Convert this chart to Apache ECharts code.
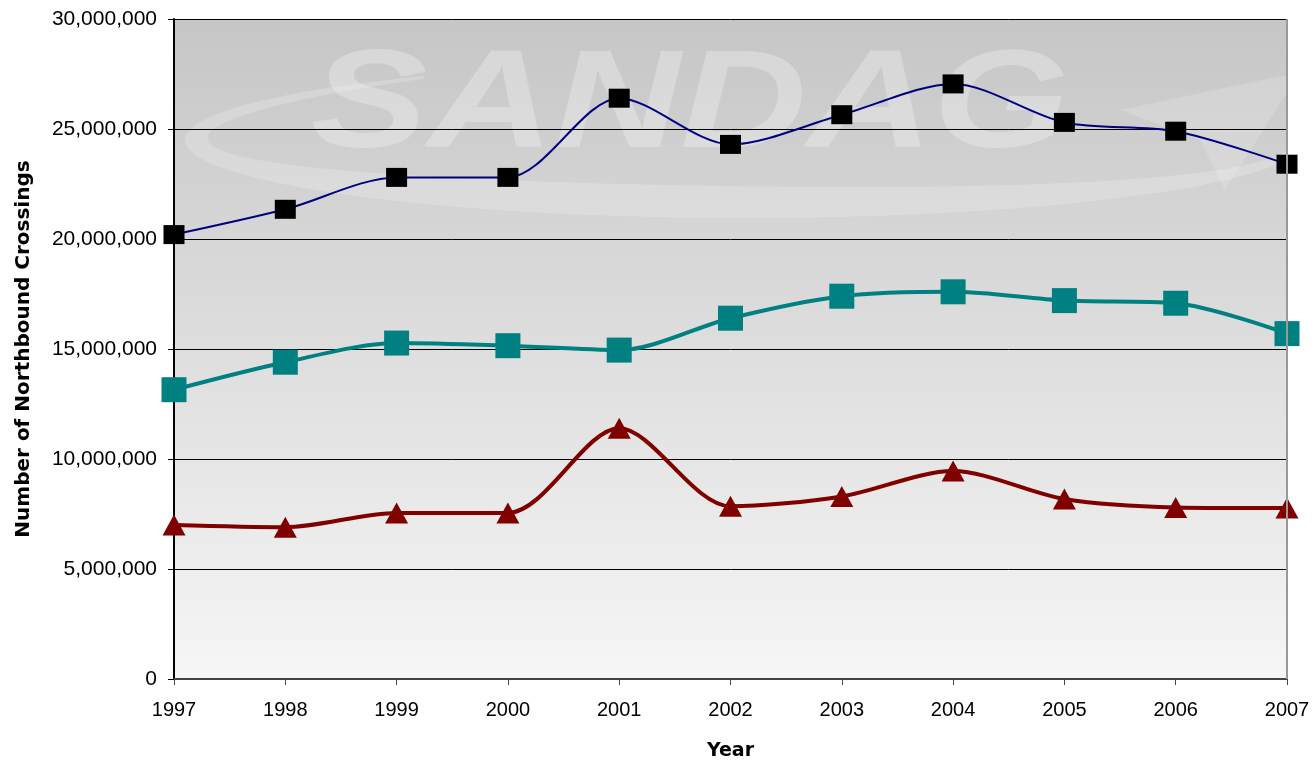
<!DOCTYPE html>
<html>
<head>
<meta charset="utf-8">
<script src="https://cdn.jsdelivr.net/npm/echarts@6/dist/echarts.min.js"></script>
<style>html,body{margin:0;padding:0;background:#fff}#c{width:1315px;height:761px}</style>
</head>
<body>
<div id="c"></div>
<script>
const years = ['1997','1998','1999','2000','2001','2002','2003','2004','2005','2006','2007'];
const seriesTop = [20200000, 21350000, 22800000, 22800000, 26400000, 24300000, 25650000, 27050000, 25300000, 24900000, 23400000];
const seriesMid = [13150000, 14400000, 15270000, 15150000, 14950000, 16400000, 17400000, 17600000, 17200000, 17080000, 15700000];
const seriesLow = [7000000, 6900000, 7550000, 7550000, 11400000, 7850000, 8300000, 9450000, 8180000, 7800000, 7770000];
const yTicks = [0, 5000000, 10000000, 15000000, 20000000, 25000000, 30000000];

// decorative watermark swoosh (crescent) geometry
function swoosh() {
  const pts = [], inner = [];
  const cx = 745, cy = 140, rx = 560, ry = 78;
  for (let d = 235; d >= -8; d -= 3) {
    const t = d * Math.PI / 180;
    const k = Math.sin(Math.max(0, Math.min(1, (235 - d) / 243)) * Math.PI);
    const w = 3 + 30 * k;
    pts.push([cx + rx * Math.cos(t), cy + ry * Math.sin(t)]);
    inner.push([cx + (rx - w) * Math.cos(t), cy + (ry - w) * Math.sin(t)]);
  }
  return pts.concat(inner.reverse());
}

const chart = echarts.init(document.getElementById('c'));
const fmt = v => v === 0 ? '0' : v.toLocaleString('en-US');
chart.setOption({
  animation: false,
  graphic: [
    {type: 'rect', z: -10, shape: {x: 174, y: 19, width: 1113, height: 660},
     style: {fill: new echarts.graphic.LinearGradient(0, 0, 0, 1, [
       {offset: 0, color: '#c6c6c6'}, {offset: 1, color: '#f6f6f6'}])}},
    {type: 'polygon', z: -9, shape: {points: swoosh()},
     style: {fill: 'rgba(255,255,255,0.2)'}},
    {type: 'polygon', z: -9, shape: {points: [[1120, 110], [1300, 72], [1225, 190], [1200, 140]]},
     style: {fill: 'rgba(255,255,255,0.16)'}},
    {type: 'text', z: -8, x: 690, y: 108, scaleX: 1.25,
     style: {text: 'SANDAG', fill: 'rgba(255,255,255,0.28)', font: 'italic 900 140px "Liberation Sans"',
       align: 'center', verticalAlign: 'middle'}},
    {type: 'line', z: 5, shape: {x1: 1287, y1: 19, x2: 1287, y2: 679}, style: {stroke: '#999', lineWidth: 2}}
  ],
  grid: {left: 174, right: 28, top: 19, bottom: 82, containLabel: false, outerBoundsMode: 'none'},
  xAxis: {
    type: 'category', data: years, boundaryGap: false,
    name: 'Year', nameLocation: 'middle', nameGap: 63,
    nameTextStyle: {fontFamily: 'DejaVu Sans', fontWeight: 'bold', fontSize: 19, color: '#000'},
    axisLine: {lineStyle: {color: '#444', width: 2}},
    axisTick: {show: true, alignWithLabel: true, length: 6, lineStyle: {color: '#444'}},
    axisLabel: {color: '#000', fontSize: 20, fontFamily: 'Liberation Sans', margin: 21}
  },
  yAxis: {
    type: 'value', min: 0, max: 30000000, interval: 5000000,
    name: 'Number of Northbound Crossings', nameLocation: 'middle', nameGap: 140,
    nameTextStyle: {fontFamily: 'DejaVu Sans', fontWeight: 'bold', fontSize: 20, color: '#000'},
    axisLine: {show: true, lineStyle: {color: '#000', width: 2}},
    axisTick: {show: true, length: 6, lineStyle: {color: '#000'}},
    axisLabel: {color: '#000', fontSize: 21, fontFamily: 'Liberation Sans', margin: 17,
      formatter: v => yTicks.includes(v) ? fmt(v) : ''},
    splitLine: {show: true, lineStyle: {color: '#000', width: 1}}
  },
  series: [
    {type: 'line', data: seriesTop, smooth: 0.3, symbol: 'rect', symbolSize: [21, 19],
     lineStyle: {color: '#000080', width: 2}, itemStyle: {color: '#000', borderWidth: 0}, z: 4},
    {type: 'line', data: seriesMid, smooth: 0.3, symbol: 'rect', symbolSize: 25,
     lineStyle: {color: '#008080', width: 4}, itemStyle: {color: '#008080', borderWidth: 0}, z: 3},
    {type: 'line', data: seriesLow, smooth: 0.3, symbol: 'triangle', symbolSize: [23, 21],
     lineStyle: {color: '#800000', width: 4}, itemStyle: {color: '#800000', borderWidth: 0}, z: 3}
  ]
});
</script>
</body>
</html>
